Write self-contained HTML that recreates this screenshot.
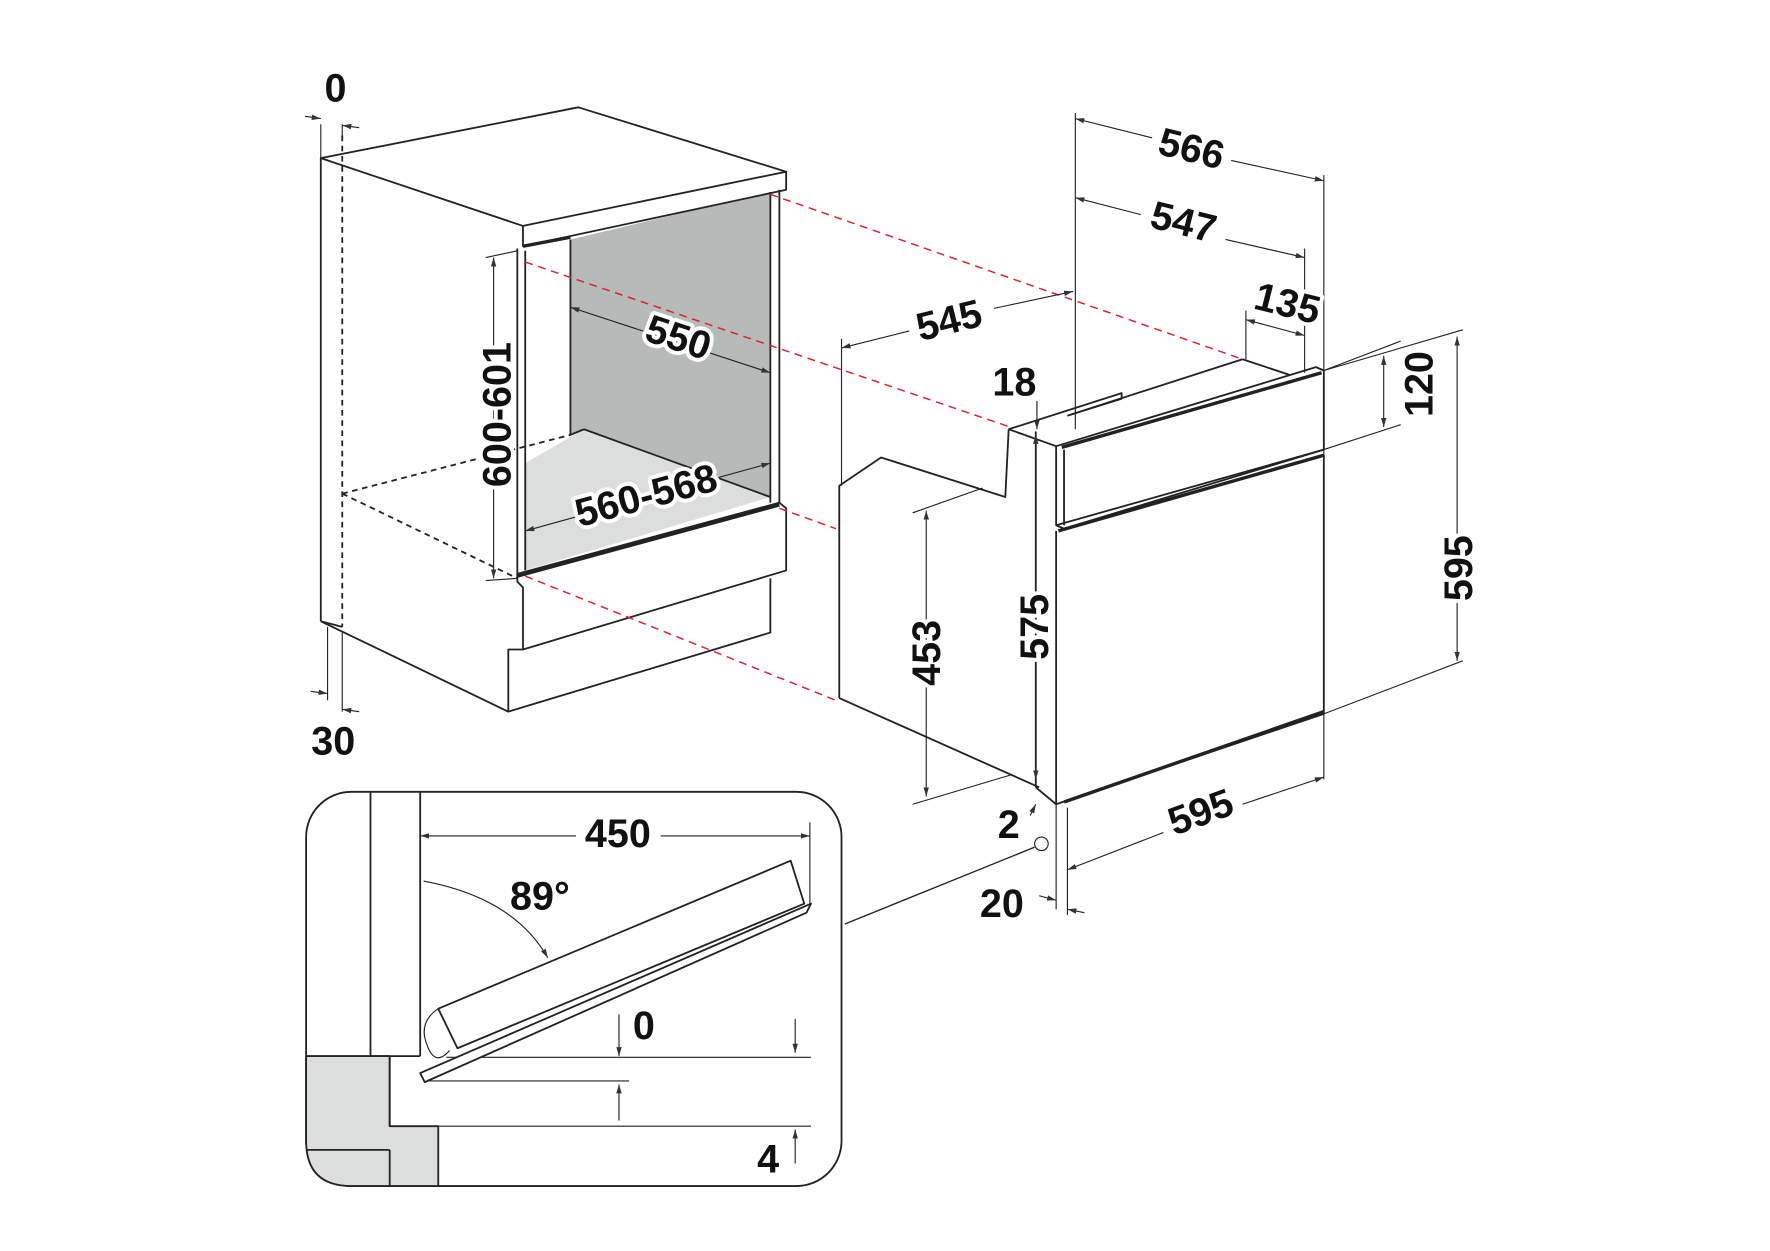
<!DOCTYPE html>
<html><head><meta charset="utf-8"><style>html,body{margin:0;padding:0;background:#fff}svg{display:block}</style></head>
<body>
<svg width="1770" height="1251" viewBox="0 0 1567 1107.5" xmlns="http://www.w3.org/2000/svg">
<defs>
<marker id="a" viewBox="0 0 10 10" refX="10" refY="5" markerWidth="8" markerHeight="8" orient="auto-start-reverse"><path d="M0,2 L10,5 L0,8 z" fill="#333"/></marker>
</defs>
<g fill="none" stroke="#222" stroke-width="1.6" stroke-linejoin="round">
<polygon points="505,212 682,170 682,440 517,380 505,385" fill="#b6bab8" stroke="none"/>
<polygon points="465,410 517,380 682,440 465,505" fill="#dcdedd" stroke="none"/>
<polygon points="284,140 512,95 696,152 463,200" fill="#fff"/>
<polyline points="463,200 463,218 696,168 696,152"/>
<line x1="284" y1="140" x2="284" y2="550"/>
<line x1="284" y1="550" x2="450" y2="630"/>
<line x1="463" y1="218" x2="505" y2="210" stroke-width="3"/>
<line x1="458" y1="220" x2="458" y2="512"/><line x1="465" y1="222" x2="465" y2="505"/>
<line x1="682" y1="170" x2="682" y2="445"/><line x1="690" y1="168" x2="690" y2="445"/>
<line x1="505" y1="212" x2="505" y2="385"/><line x1="505" y1="385" x2="517" y2="380"/>
<line x1="517" y1="380" x2="682" y2="440"/>
<polygon points="458,508 690,445 696,450 696,505 463,575 463,520 458,515" fill="#fff"/>
<line x1="458" y1="510" x2="690" y2="447" stroke-width="3"/>
<polyline points="463,575 450,575 450,630 682,560 682,512"/>
<line x1="303" y1="120" x2="303" y2="555" stroke-dasharray="5,4"/>
<line x1="303" y1="437" x2="505" y2="385" stroke-dasharray="5,4"/>
<line x1="303" y1="437" x2="458" y2="512" stroke-dasharray="5,4"/>
<line x1="284" y1="550" x2="303" y2="555"/>
<line x1="284" y1="110" x2="284" y2="140" stroke-width="1"/><line x1="303" y1="110" x2="303" y2="120" stroke-width="1"/>
<line x1="270" y1="103" x2="284" y2="105" stroke-width="1" marker-end="url(#a)"/>
<line x1="318" y1="113" x2="303" y2="111" stroke-width="1" marker-end="url(#a)"/>
<line x1="290" y1="555" x2="290" y2="620" stroke-width="1"/><line x1="303" y1="560" x2="303" y2="630" stroke-width="1"/>
<line x1="275" y1="612" x2="290" y2="614" stroke-width="1" marker-end="url(#a)"/>
<line x1="318" y1="630" x2="303" y2="628" stroke-width="1" marker-end="url(#a)"/>
<line x1="437" y1="228" x2="437" y2="512" stroke-width="1" marker-start="url(#a)" marker-end="url(#a)"/>
<line x1="430" y1="228" x2="458" y2="222" stroke-width="1"/><line x1="430" y1="514" x2="458" y2="512" stroke-width="1"/>
<line x1="505" y1="272" x2="682" y2="330" stroke-width="1" marker-start="url(#a)" marker-end="url(#a)"/>
<line x1="465" y1="470" x2="682" y2="410" stroke-width="1" marker-start="url(#a)" marker-end="url(#a)"/>
<g stroke="#e0202a" stroke-dasharray="7,5" stroke-width="1.3">
<line x1="682" y1="172" x2="1100" y2="318"/>
<line x1="465" y1="232" x2="900" y2="380"/>
<line x1="690" y1="450" x2="740" y2="468"/>
<line x1="465" y1="510" x2="740" y2="620"/>
</g>
<polygon points="743,430 780,405 890,440 893,380 945,368 1100,318 1172,328 1172,632 935,712 920,697 743,618" fill="#fff" stroke="none"/>
<polyline points="743,618 743,430 780,405 890,440 893,380"/>
<line x1="743" y1="618" x2="920" y2="697"/>
<polyline points="893,380 993,348 993,353 945,368"/>
<line x1="945" y1="368" x2="1100" y2="318"/><line x1="1100" y1="318" x2="1145" y2="333"/>
<line x1="893" y1="380" x2="935" y2="395"/>
<line x1="917" y1="382" x2="917" y2="697"/><line x1="917" y1="697" x2="935" y2="712"/>
<polygon points="935,395 1165,325 1172,328 1172,398 942,468 935,465" fill="#fff"/>
<line x1="942" y1="398" x2="942" y2="465"/><line x1="940" y1="396" x2="1170" y2="330" stroke-width="3"/>
<line x1="935" y1="465" x2="1172" y2="398"/><line x1="937" y1="470" x2="1172" y2="403" stroke-width="3"/>
<polyline points="935,470 935,712 1172,632 1172,403"/>
<line x1="942" y1="710" x2="1172" y2="630" stroke-width="3"/>
<g stroke-width="1">
<line x1="952" y1="100" x2="952" y2="380"/><line x1="1172" y1="155" x2="1172" y2="690"/>
<line x1="1090" y1="142" x2="1172" y2="160" marker-end="url(#a)"/><line x1="1020" y1="122" x2="952" y2="105" marker-end="url(#a)"/>
<line x1="1155" y1="220" x2="1155" y2="330"/>
<line x1="1010" y1="190" x2="952" y2="175" marker-end="url(#a)"/><line x1="1085" y1="212" x2="1155" y2="228" marker-end="url(#a)"/>
<line x1="745" y1="300" x2="745" y2="430"/>
<line x1="805" y1="293" x2="745" y2="308" marker-end="url(#a)"/><line x1="880" y1="273" x2="950" y2="258" marker-end="url(#a)"/>
<line x1="1103" y1="275" x2="1103" y2="318"/>
<line x1="1103" y1="283" x2="1155" y2="297" marker-start="url(#a)" marker-end="url(#a)"/>
<line x1="918" y1="355" x2="918" y2="380" marker-end="url(#a)"/>
<line x1="1225" y1="315" x2="1225" y2="378" marker-start="url(#a)" marker-end="url(#a)"/>
<line x1="1172" y1="328" x2="1240" y2="302"/><line x1="1172" y1="398" x2="1240" y2="376"/>
<line x1="1290" y1="298" x2="1290" y2="585" marker-start="url(#a)" marker-end="url(#a)"/>
<line x1="1172" y1="328" x2="1295" y2="292"/><line x1="1172" y1="632" x2="1295" y2="585"/>
<line x1="917" y1="385" x2="917" y2="690" marker-start="url(#a)" marker-end="url(#a)"/>
<line x1="820" y1="452" x2="820" y2="705" marker-start="url(#a)" marker-end="url(#a)"/>
<line x1="808" y1="454" x2="870" y2="432"/><line x1="808" y1="712" x2="895" y2="686"/>
<line x1="1030" y1="737" x2="945" y2="770" marker-end="url(#a)"/><line x1="1100" y1="712" x2="1172" y2="688" marker-end="url(#a)"/>
<line x1="935" y1="712" x2="935" y2="805"/><line x1="945" y1="715" x2="945" y2="810"/>
<line x1="920" y1="793" x2="935" y2="797" marker-end="url(#a)"/><line x1="960" y1="808" x2="945" y2="805" marker-end="url(#a)"/>
<line x1="912" y1="722" x2="917" y2="712" marker-end="url(#a)"/>
</g>
<circle cx="922" cy="747" r="6" fill="#fff" stroke-width="1"/>
<line x1="916" y1="750" x2="748" y2="818" stroke-width="1.2"/>
<rect x="271" y="701" width="474" height="349" rx="40" fill="#fff"/>
<path d="M271,935 L345,935 L345,997 L388,997 L388,1050 L311,1050 Q271,1050 271,1010 Z" fill="#dcdedd"/>
<line x1="345" y1="935" x2="345" y2="997"/><line x1="271" y1="1018" x2="345" y2="1018"/><line x1="345" y1="1018" x2="345" y2="1050"/>
<line x1="271" y1="935" x2="345" y2="935"/>
<line x1="328" y1="701" x2="328" y2="935"/><line x1="372" y1="701" x2="372" y2="935"/>
<line x1="328" y1="935" x2="372" y2="935"/>
<g stroke-width="1">
<line x1="717" y1="728" x2="717" y2="800"/>
<line x1="510" y1="740" x2="372" y2="740" marker-end="url(#a)"/><line x1="585" y1="740" x2="717" y2="740" marker-end="url(#a)"/>
<path d="M375,780 Q455,795 485,848" marker-end="url(#a)"/>
<line x1="395" y1="936" x2="718" y2="936"/>
<line x1="548" y1="898" x2="548" y2="935" marker-end="url(#a)"/>
<line x1="704" y1="902" x2="704" y2="932" marker-end="url(#a)"/>
<line x1="380" y1="957" x2="557" y2="957"/>
<line x1="548" y1="992" x2="548" y2="960" marker-end="url(#a)"/>
<line x1="388" y1="997" x2="718" y2="997"/>
<line x1="704" y1="1030" x2="704" y2="1000" marker-end="url(#a)"/>
</g>
<polygon points="388,893 700,762 712,800 405,928" fill="#fff"/>
<polygon points="372,950 718,800 714,808 376,958" fill="#fff"/>
<path d="M388,893 Q370,905 378,925 Q385,945 398,930" stroke-width="1"/>
</g>
<g font-family="Liberation Sans, sans-serif" font-weight="bold" font-size="35" fill="#111" text-anchor="middle" stroke="#fff" stroke-width="7" paint-order="stroke" stroke-linejoin="round">
<text x="297" y="90">0</text>
<text x="295" y="668">30</text>
<text transform="translate(452,367) rotate(-90)">600-601</text>
<text transform="translate(597,310) rotate(18)">550</text>
<text transform="translate(575,450) rotate(-15)">560-568</text>
<text transform="translate(1052,143) rotate(14)">566</text>
<text transform="translate(1045,208) rotate(14)">547</text>
<text transform="translate(843,295) rotate(-14)">545</text>
<text transform="translate(1137,280) rotate(14)">135</text>
<text x="898" y="350">18</text>
<text transform="translate(1268,340) rotate(-90)">120</text>
<text transform="translate(1303,503) rotate(-90)">595</text>
<text transform="translate(928,555) rotate(-90)">575</text>
<text transform="translate(832,578) rotate(-90)">453</text>
<text transform="translate(1067,730) rotate(-20)">595</text>
<text x="893" y="742">2</text>
<text x="887" y="812">20</text>
<text x="547" y="750">450</text>
<text x="478" y="805">89°</text>
<text x="570" y="920">0</text>
<text x="680" y="1038">4</text>
</g>
</svg>
</body></html>
